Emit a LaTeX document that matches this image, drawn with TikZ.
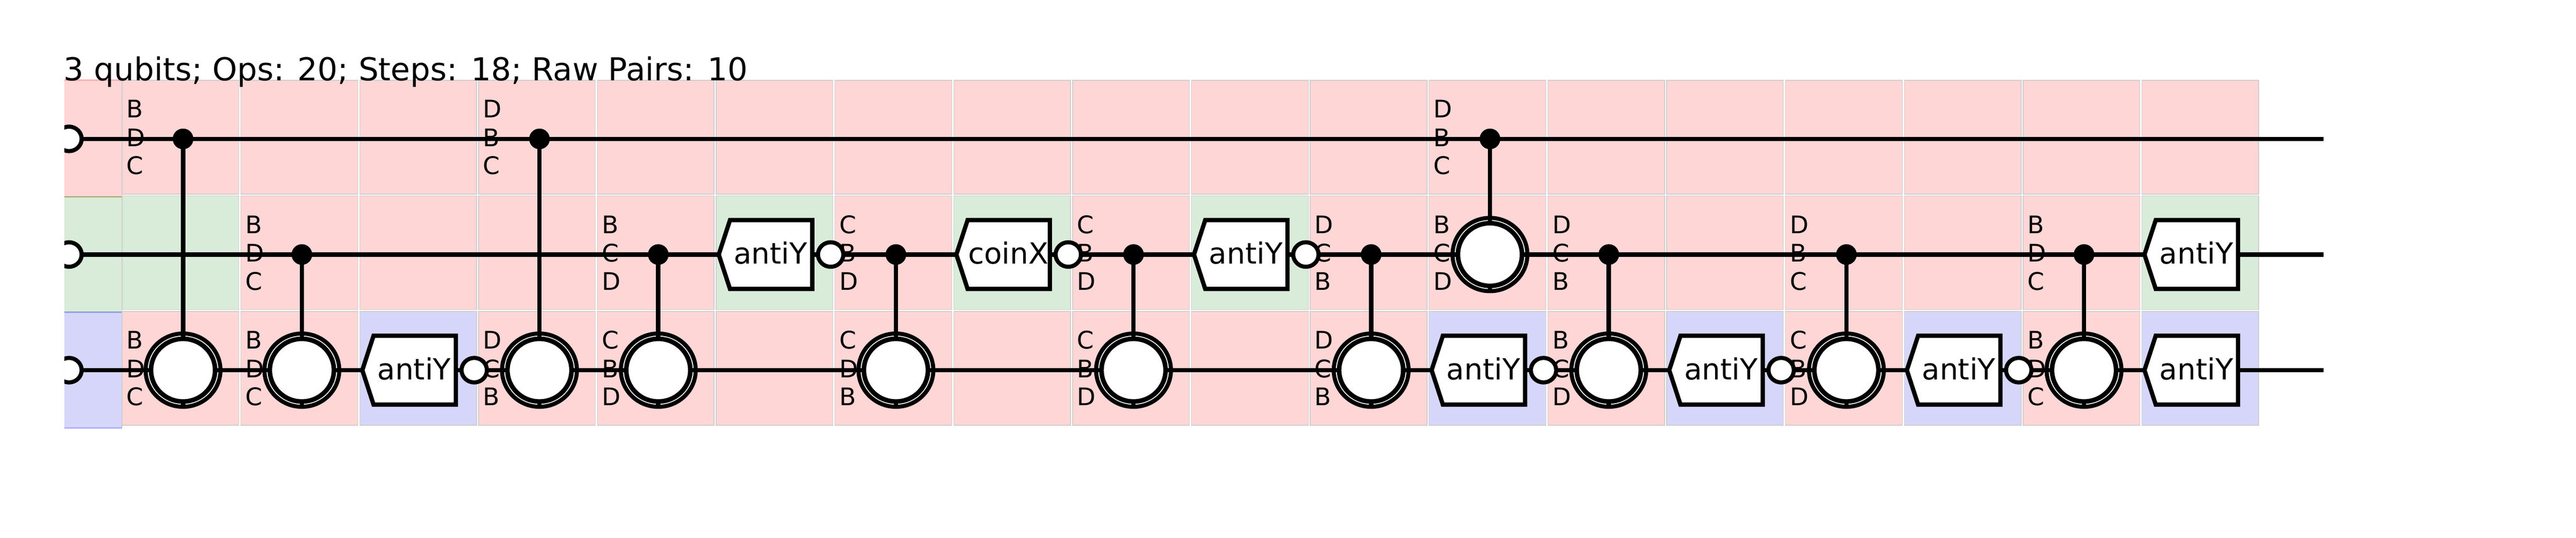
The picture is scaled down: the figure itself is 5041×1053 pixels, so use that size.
\documentclass[tikz,border=0pt]{standalone}
\usepackage{fontspec}
\setmainfont{DejaVu Sans}
\usetikzlibrary{shapes.geometric}
\definecolor{cellred}{RGB}{255,214,214}
\definecolor{cellgreen}{RGB}{217,235,217}
\definecolor{cellblue}{RGB}{214,214,250}
\definecolor{celledge}{RGB}{208,205,205}
\tikzset{
  cellbox/.style={draw=celledge,line width=.7pt},
  leftred/.style={fill=cellred,draw=red,draw opacity=.25,line width=1.5pt},
  leftgreen/.style={fill=cellgreen,draw=green!70!black,draw opacity=.25,line width=1.5pt},
  leftblue/.style={fill=cellblue,draw=blue,draw opacity=.25,line width=1.5pt},
  wireline/.style={draw=black,line width=4.3pt},
  ctrldot/.style={circle,fill=black,inner sep=0pt,outer sep=0pt,minimum size=20.2pt},
  ringouter/.style={ellipse,draw=black,fill=white,line width=4pt,inner sep=0pt,minimum width=73.2pt,minimum height=71.7pt},
  ringinner/.style={ellipse,draw=black,fill=white,line width=4.5pt,inner sep=0pt,minimum width=62.7pt,minimum height=61.4pt},
  bubble/.style={ellipse,draw=black,fill=white,line width=4pt,inner sep=0pt,minimum width=24.8pt,minimum height=24pt},
  gatebox/.style={draw=black,fill=white,line width=4.2pt,miter limit=10},
  gatetext/.style={anchor=base,inner sep=0pt,font=\fontsize{28.5pt}{30pt}\selectfont},
  labeltext/.style={anchor=base west,inner sep=0pt,font=\fontsize{23.7pt}{25pt}\selectfont},
  titletext/.style={anchor=base west,inner sep=0pt,font=\fontsize{30.9pt}{32pt}\selectfont},
}
\newcommand\QCell[3]{%
  \pgfmathsetmacro\qcx{239+232.5*#1}%
  \pgfmathsetmacro\qcy{157.3+226.4*#2}%
  \fill[#3] (\qcx,\qcy) rectangle ++(228.5,222.6);
  \draw[cellbox] (\qcx,\qcy) rectangle ++(228.5,222.6);
}
\newcommand\QLab[5]{%
  \pgfmathsetmacro\qlx{239+232.5*#1+8.4}%
  \pgfmathsetmacro\qly{272+226.3*#2}%
  \node[labeltext] (la#1r#2) at (\qlx,\qly-41.4) {#3};
  \node[labeltext] (lb#1r#2) at (\qlx,\qly+14.6) {#4};
  \node[labeltext] (lc#1r#2) at (\qlx,\qly+69.6) {#5};
}
\newcommand\QTgt[3]{%
  \pgfmathsetmacro\qtx{358.2+232.5*#1}%
  \pgfmathsetmacro\qyc{272+226.45*#2}%
  \pgfmathsetmacro\qyt{272+226.45*#3}%
  \node[ringouter] (t#1) at (\qtx,\qyt) {};
  \node[ctrldot] (c#1) at (\qtx,\qyc) {};
  \draw[wireline] (c#1.center) -- (t#1.north);
  \draw[wireline] (t#1.north) -- (t#1.south);
  \draw[wireline] (t#1.west) -- (t#1.east);
  \node[ringinner] (ti#1) at (t#1.center) {};
}
\newcommand\QBox[3]{%
  \pgfmathsetmacro\qbx{239+232.5*#1}%
  \pgfmathsetmacro\qby{272+226.45*#2}%
  \draw[gatebox] (\qbx+5,\qby) -- (\qbx+27,\qby-67.4) -- (\qbx+188,\qby-67.4)
     -- (\qbx+188,\qby+67.4) -- (\qbx+27,\qby+67.4) -- cycle;
  \node[gatetext] (b#1r#2) at (\qbx+106.5,\qby+18.3) {#3};
}
\newcommand\QBub[2]{%
  \pgfmathsetmacro\qbx{239+232.5*#1+224}%
  \pgfmathsetmacro\qby{272+226.45*#2}%
  \node[bubble] (o#1r#2) at (\qbx,\qby) {};
}
\begin{document}
\begin{tikzpicture}[x=.5pt,y=-.5pt]
\useasboundingbox (0,0) rectangle (5041,1053);
% left column
\begin{scope}
  \clip (126,140) rectangle (239,860);
  \path[leftred] (120,157) rectangle (239,386);
  \path[leftgreen] (120,386) rectangle (239,611);
  \path[leftblue] (120,611) rectangle (239,838);
\end{scope}
% grid
\foreach \c in {0,...,17} {\QCell{\c}{0}{cellred}}
\foreach \c in {1,2,3,4,6,8,10,11,12,13,14,15,16} {\QCell{\c}{1}{cellred}}
\foreach \c in {0,5,7,9,17} {\QCell{\c}{1}{cellgreen}}
\foreach \c in {0,1,3,4,5,6,7,8,9,10,12,14,16} {\QCell{\c}{2}{cellred}}
\foreach \c in {2,11,13,15,17} {\QCell{\c}{2}{cellblue}}
% title
\node[titletext] (title) at (124.5,158) {3 qubits; Ops: 20; Steps: 18; Raw Pairs: 10};
% wires
\coordinate (ws0) at (135,272); \coordinate (we0) at (4547,272);
\coordinate (ws1) at (135,498.45); \coordinate (we1) at (4547,498.45);
\coordinate (ws2) at (135,724.9); \coordinate (we2) at (4547,724.9);
\draw[wireline] (ws0) -- (we0);
\draw[wireline] (ws1) -- (we1);
\draw[wireline] (ws2) -- (we2);
\begin{scope}
  \clip (126,140) rectangle (300,860);
  \node[bubble] (in0) at (ws0) {};
  \node[bubble] (in1) at (ws1) {};
  \node[bubble] (in2) at (ws2) {};
\end{scope}
% labels
\QLab{0}{0}{B}{D}{C} \QLab{0}{2}{B}{D}{C}
\QLab{1}{1}{B}{D}{C} \QLab{1}{2}{B}{D}{C}
\QLab{3}{0}{D}{B}{C} \QLab{3}{2}{D}{C}{B}
\QLab{4}{1}{B}{C}{D} \QLab{4}{2}{C}{B}{D}
\QLab{6}{1}{C}{B}{D} \QLab{6}{2}{C}{D}{B}
\QLab{8}{1}{C}{B}{D} \QLab{8}{2}{C}{B}{D}
\QLab{10}{1}{D}{C}{B} \QLab{10}{2}{D}{C}{B}
\QLab{11}{0}{D}{B}{C} \QLab{11}{1}{B}{C}{D}
\QLab{12}{1}{D}{C}{B} \QLab{12}{2}{B}{C}{D}
\QLab{14}{1}{D}{B}{C} \QLab{14}{2}{C}{B}{D}
\QLab{16}{1}{B}{D}{C} \QLab{16}{2}{B}{D}{C}
% controlled gates
\QTgt{0}{0}{2}
\QTgt{1}{1}{2}
\QTgt{3}{0}{2}
\QTgt{4}{1}{2}
\QTgt{6}{1}{2}
\QTgt{8}{1}{2}
\QTgt{10}{1}{2}
\QTgt{11}{0}{1}
\QTgt{12}{1}{2}
\QTgt{14}{1}{2}
\QTgt{16}{1}{2}
% single gates
\QBox{2}{2}{antiY} \QBub{2}{2}
\QBox{5}{1}{antiY} \QBub{5}{1}
\QBox{7}{1}{coinX} \QBub{7}{1}
\QBox{9}{1}{antiY} \QBub{9}{1}
\QBox{11}{2}{antiY} \QBub{11}{2}
\QBox{13}{2}{antiY} \QBub{13}{2}
\QBox{15}{2}{antiY} \QBub{15}{2}
\QBox{17}{1}{antiY}
\QBox{17}{2}{antiY}
\end{tikzpicture}
\end{document}
